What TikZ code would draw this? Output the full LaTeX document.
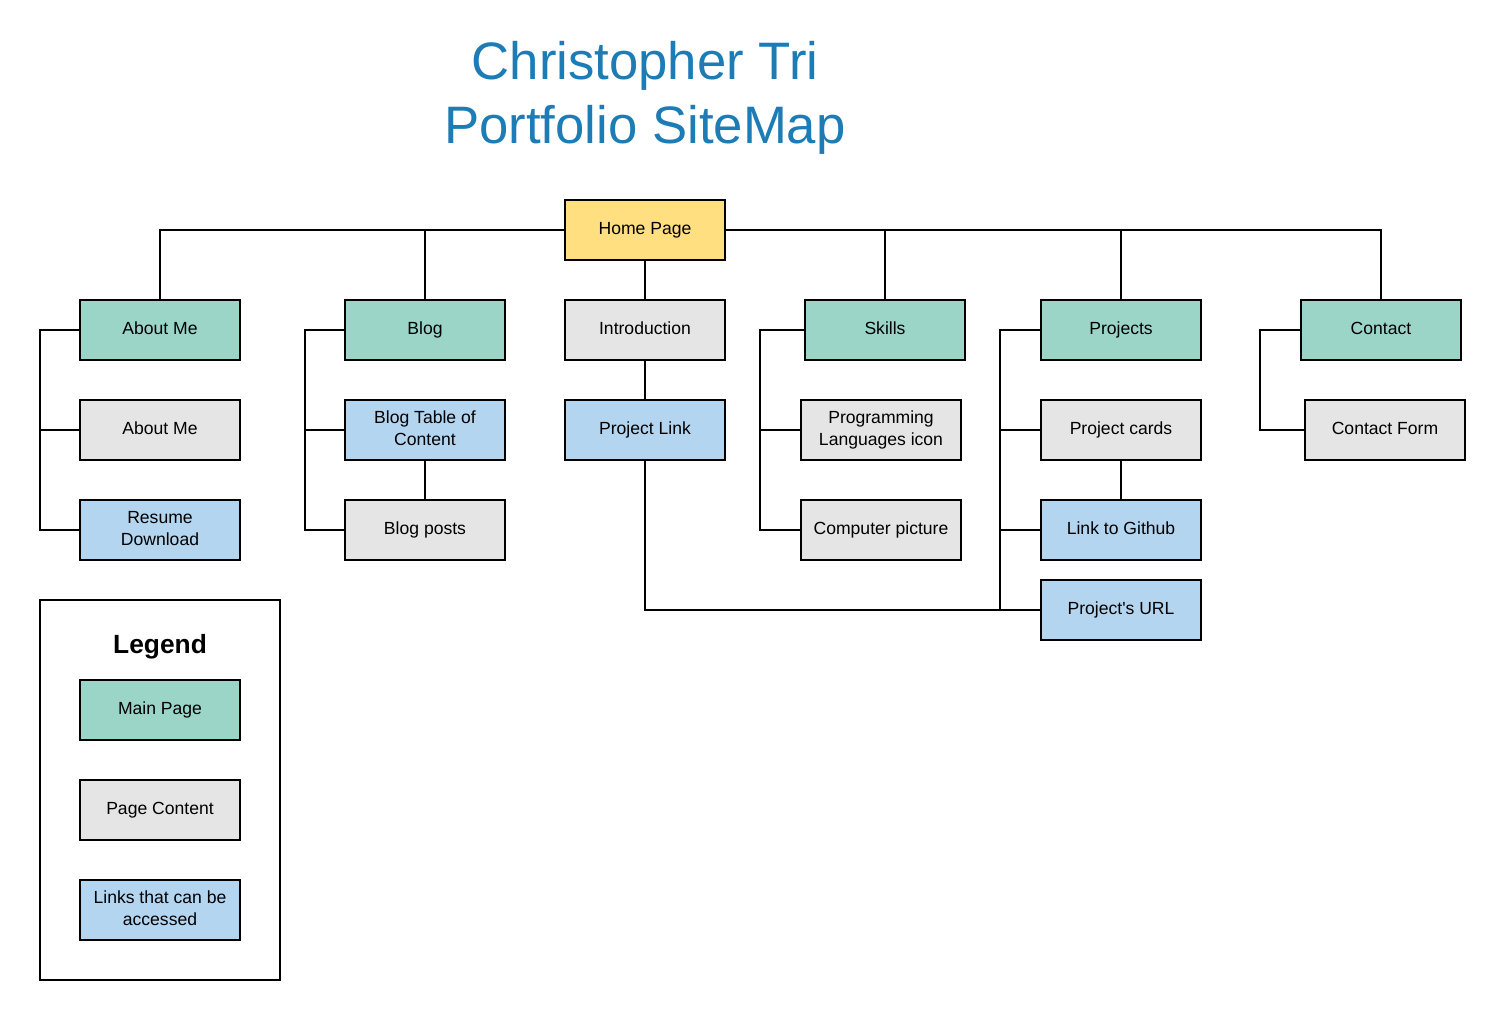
\documentclass[tikz,border=0pt]{standalone}
\usepackage{xcolor}
\usepackage{fontspec}
\setmainfont{Liberation Sans}
\usepackage{tikz}

\definecolor{mainfill}{HTML}{9AD5C8}
\definecolor{contentfill}{HTML}{E5E5E5}
\definecolor{linkfill}{HTML}{B3D5F0}
\definecolor{homefill}{HTML}{FFDF80}
\definecolor{titleblue}{HTML}{1C7CB6}

\newcommand\boxstrut{\vrule width 0pt height 0.74em depth 0.2em}

\tikzset{
  box/.style={draw, line width=1.1pt, minimum width=3.2cm, minimum height=1.2cm,
              align=center, font=\fontsize{10}{12.5}\selectfont, inner sep=2pt,
              execute at begin node=\boxstrut, execute at end node=\boxstrut},
  mainbox/.style={box, fill=mainfill},
  contentbox/.style={box, fill=contentfill},
  linkbox/.style={box, fill=linkfill},
  homebox/.style={box, fill=homefill},
  wire/.style={line width=1.1pt}
}

\begin{document}
\begin{tikzpicture}[x=0.02cm, y=-0.02cm]
            \useasboundingbox (0,0) rectangle (1506,1020);
            %标题
            \node[text=titleblue, align=center, font=\fontsize{30}{36}\selectfont] (title) at (645,98) {Christopher Tri\\Portfolio SiteMap};
            %首页
            \node[homebox] (home) at (645,230) {Home Page};
            %第一层: 主页面
            \node[mainbox] (about) at (160,330) {About Me};
            \node[mainbox] (blog) at (425,330) {Blog};
            \node[contentbox] (intro) at (645,330) {Introduction};
            \node[mainbox] (skills) at (885,330) {Skills};
            \node[mainbox] (projects) at (1121,330) {Projects};
            \node[mainbox] (contact) at (1381,330) {Contact};
            %第二层
            \node[contentbox] (aboutme) at (160,430) {About Me};
            \node[linkbox] (blogtoc) at (425,430) {Blog Table of\\Content};
            \node[linkbox] (projlink) at (645,430) {Project Link};
            \node[contentbox] (proglang) at (881,430) {Programming\\Languages icon};
            \node[contentbox] (projcards) at (1121,430) {Project cards};
            \node[contentbox] (contactform) at (1385,430) {Contact Form};
            %第三层
            \node[linkbox] (resume) at (160,530) {Resume\\Download};
            \node[contentbox] (blogposts) at (425,530) {Blog posts};
            \node[contentbox] (comppic) at (881,530) {Computer picture};
            \node[linkbox] (github) at (1121,530) {Link to Github};
            \node[linkbox] (projurl) at (1121,610) {Project\textquotesingle s URL};
            %首页到主页面的连线
            \foreach \n in {about,blog}{\draw[wire] (home.west) -| (\n.north);}
            \foreach \n in {skills,projects,contact}{\draw[wire] (home.east) -| (\n.north);}
            \draw[wire] (home) -- (intro);
            %各分支的竖线
            \coordinate (abbus) at (40,330);
            \coordinate (blbus) at (305,330);
            \coordinate (skbus) at (760,330);
            \coordinate (pjbus) at (1000,330);
            \coordinate (ctbus) at (1260,330);
            \draw[wire] (about.west) -- (abbus) |- (resume.west);
            \draw[wire] (aboutme.west) -- (aboutme.west -| abbus);
            \draw[wire] (blog.west) -- (blbus) |- (blogposts.west);
            \draw[wire] (blogtoc.west) -- (blogtoc.west -| blbus);
            \draw[wire] (blogtoc) -- (blogposts);
            \draw[wire] (intro) -- (projlink);
            \draw[wire] (projlink.south) |- (projurl.west);
            \draw[wire] (skills.west) -- (skbus) |- (comppic.west);
            \draw[wire] (proglang.west) -- (proglang.west -| skbus);
            \draw[wire] (projects.west) -- (pjbus) |- (projurl.west);
            \foreach \n in {projcards,github}{\draw[wire] (\n.west) -- (\n.west -| pjbus);}
            \draw[wire] (projcards) -- (github);
            \draw[wire] (contact.west) -- (ctbus) |- (contactform.west);
            %图例
            \node[draw, line width=1.1pt, minimum width=4.8cm, minimum height=7.6cm] (legend) at (160,790) {};
            \node[font=\fontsize{15}{18}\selectfont\bfseries] (legendtitle) at (160,647) {Legend};
            \node[mainbox] (legmain) at (160,710) {Main Page};
            \node[contentbox] (legcontent) at (160,810) {Page Content};
            \node[linkbox] (leglinks) at (160,910) {Links that can be\\accessed};
        \end{tikzpicture}
\end{document}
